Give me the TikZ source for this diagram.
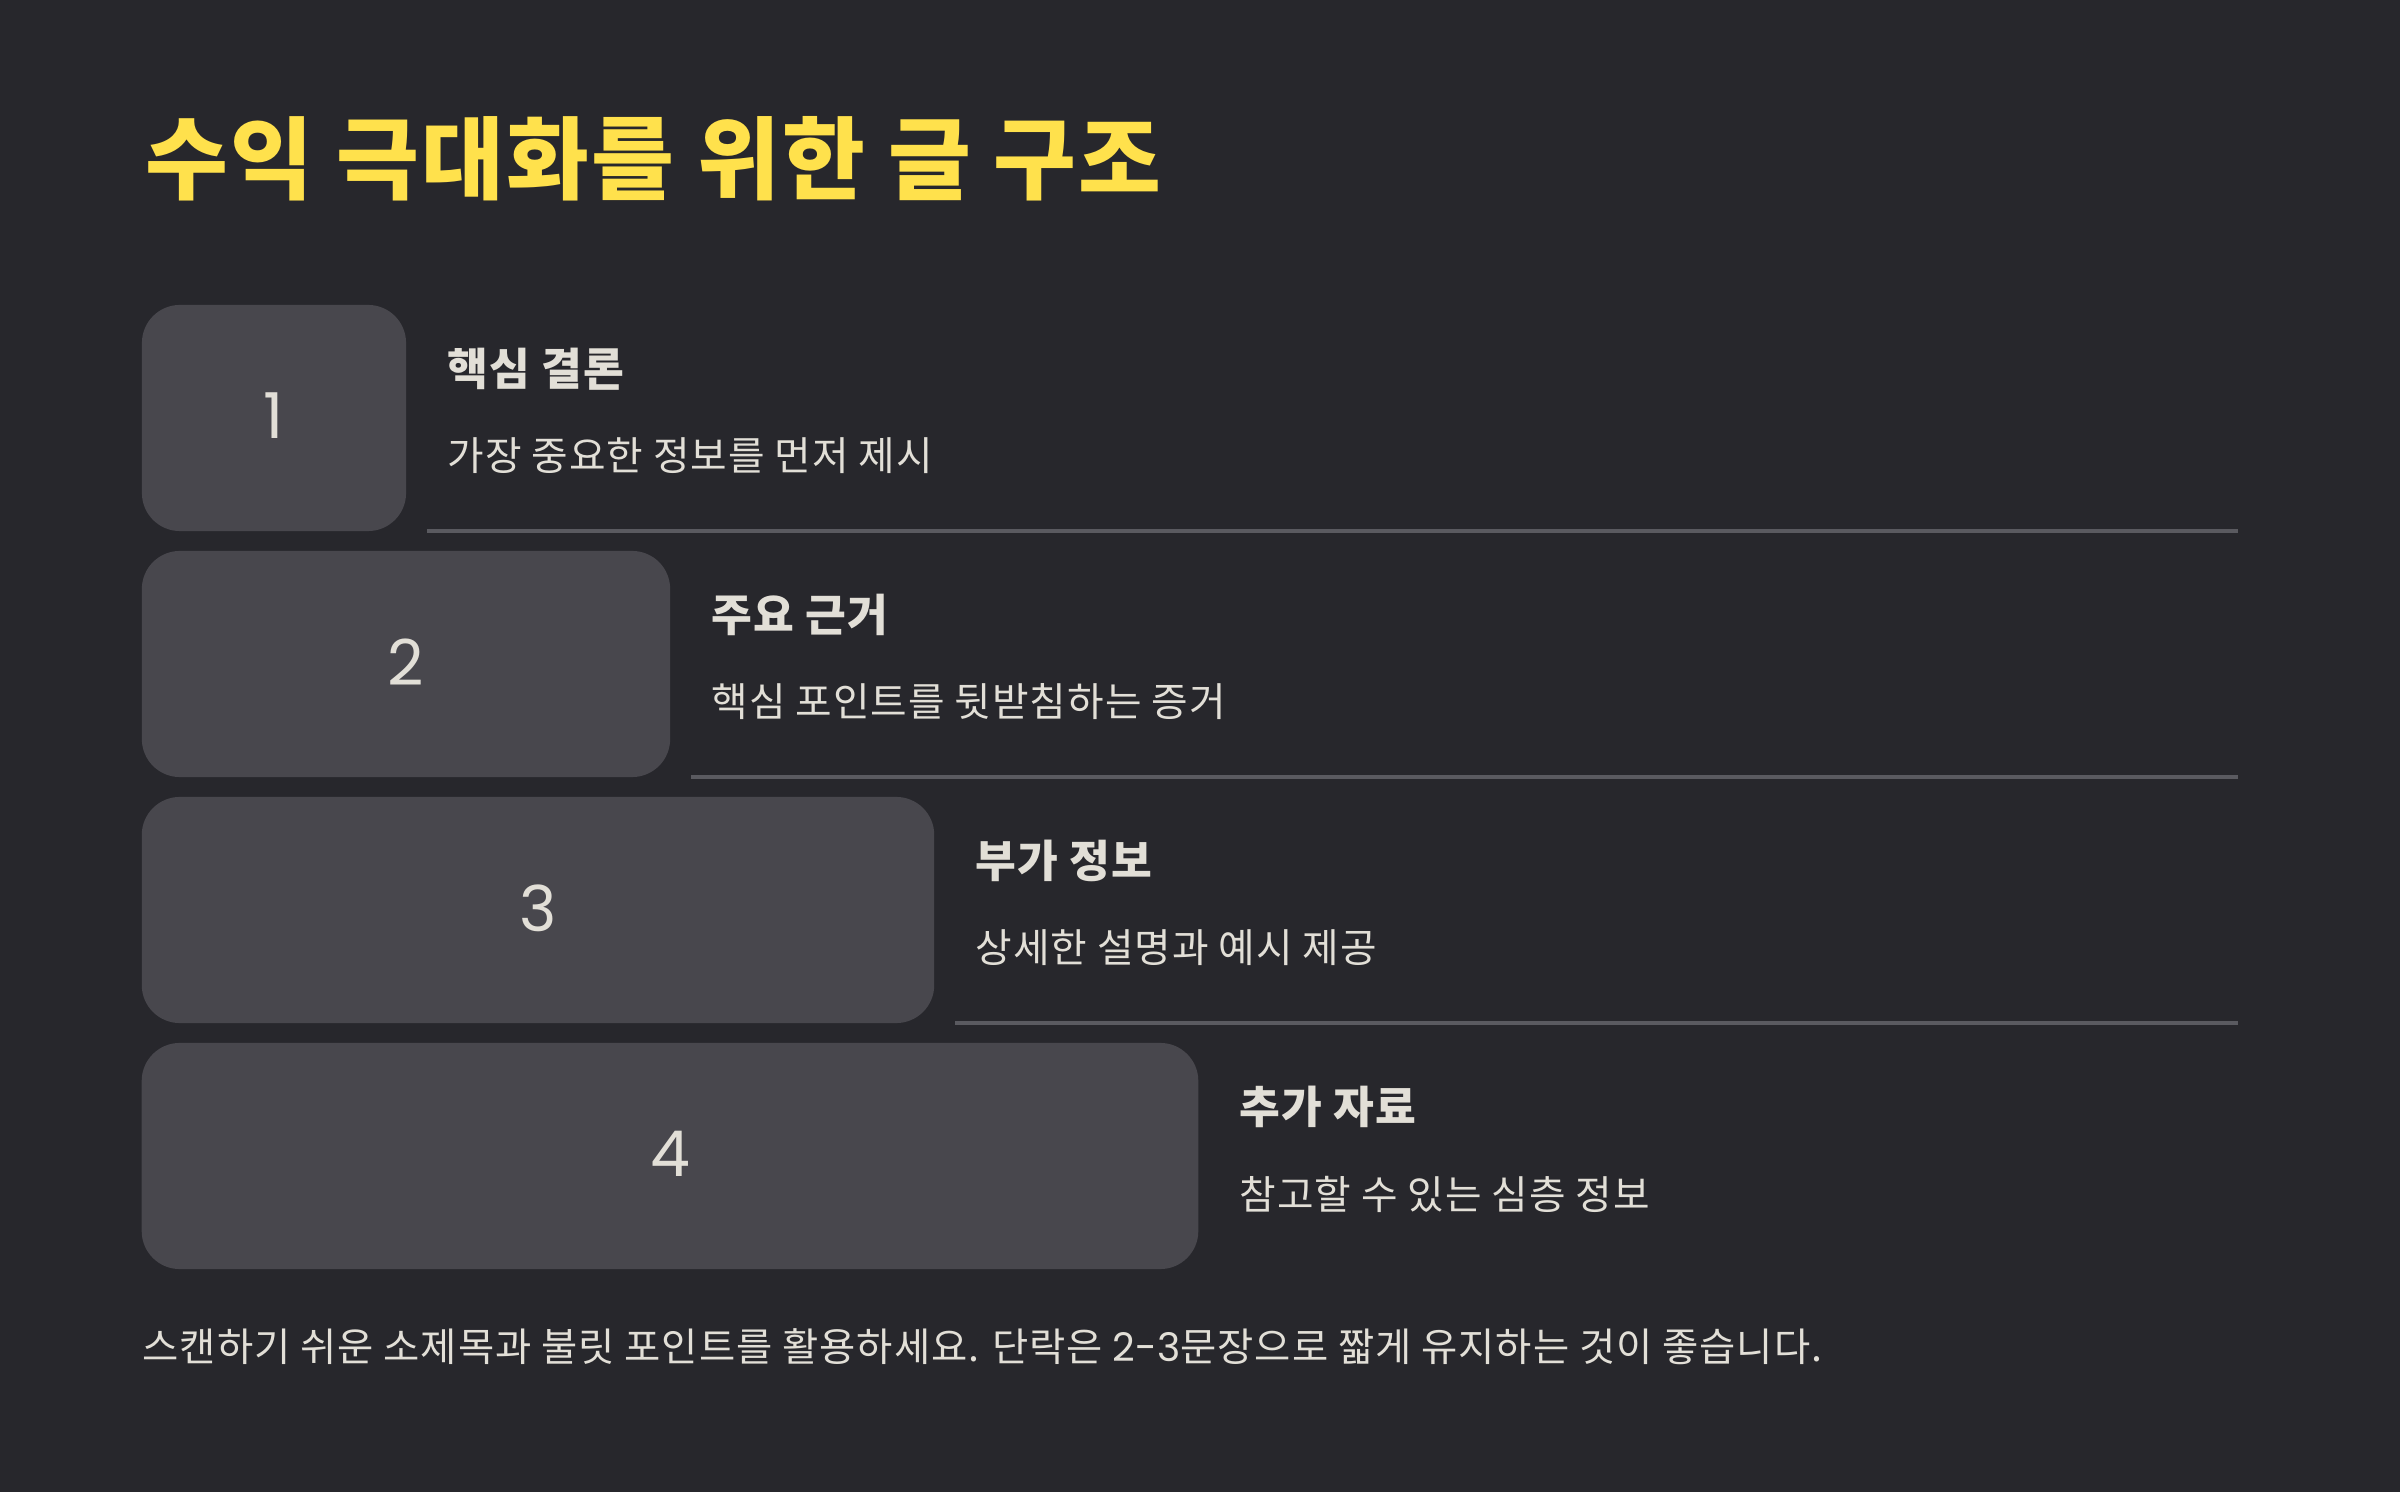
\documentclass[tikz,border=0pt]{standalone}
\usepackage{fontspec}
\setmainfont[LetterSpace=2.5]{Noto Sans CJK KR}
\newfontfamily\numfont{Poppins}
\usetikzlibrary{positioning}
\definecolor{bgdark}{HTML}{27272C}
\definecolor{boxgray}{HTML}{48474D}
\definecolor{softwhite}{HTML}{E2DFD7}
\definecolor{titleyellow}{HTML}{FFE14C}
\definecolor{rulegray}{HTML}{5A5A60}
\tikzset{
	stepbox/.style={fill=boxgray, rounded corners=0.38cm, minimum height=2.26cm, inner sep=0pt, outer sep=0pt, text=softwhite, font=\numfont\fontsize{18}{20}\selectfont},
	headtext/.style={anchor=west, inner sep=0pt, text=softwhite, font=\bfseries\fontsize{12.6}{15}\selectfont},
	subtext/.style={anchor=west, inner sep=0pt, text=softwhite, font=\fontsize{11.3}{13}\selectfont},
	sepline/.style={draw=rulegray, line width=0.9pt}
}
\begin{document}
\begin{tikzpicture}[x=0.01cm, y=-0.01cm]
	\fill[bgdark] (0,0) rectangle (2400,1492);
	\useasboundingbox (0,0) rectangle (2400,1492);
	\node[anchor=west, inner sep=0pt, text=titleyellow, font=\bfseries\fontsize{25.6}{30}\selectfont] (title) at (145,159) {수익 극대화를 위한 글 구조};
	\foreach \i/\head/\sub in {1/핵심 결론/가장 중요한 정보를 먼저 제시, 2/주요 근거/핵심 포인트를 뒷받침하는 증거, 3/부가 정보/상세한 설명과 예시 제공, 4/추가 자료/참고할 수 있는 심층 정보} {
		\node[stepbox, minimum width=2.64cm*\i] (box\i) at (142+132*\i, 172+246*\i) {\raisebox{1.3pt}{\i}};
		\node[headtext] (head\i) at (183+264*\i, 123+246*\i) {\head};
		\node[subtext] (sub\i) at (183+264*\i, 210+246*\i) {\sub};
	}
	\foreach \i in {1,2,3} {
		\coordinate (ls\i) at (163+264*\i, 285+246*\i);
		\coordinate (le\i) at (2238, 285+246*\i);
		\draw[sepline] (ls\i) -- (le\i);
	}
	\node[subtext, font=\fontsize{11.2}{13}\selectfont] (note) at (142,1347) {스캔하기 쉬운 소제목과 불릿 포인트를 활용하세요. 단락은 {\numfont 2-3}문장으로 짧게 유지하는 것이 좋습니다.};
\end{tikzpicture}
\end{document}
